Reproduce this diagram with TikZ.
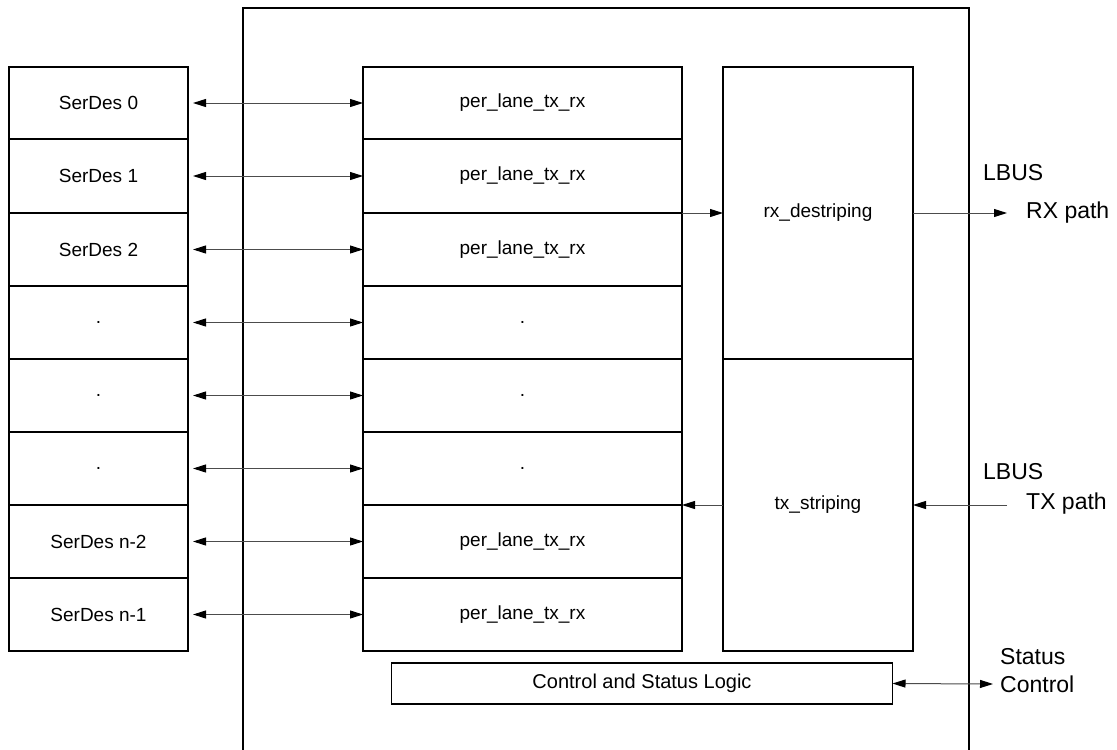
\documentclass[tikz,border=0pt]{standalone}
\usepackage{fontspec}
\setmainfont{Liberation Sans}
\usetikzlibrary{arrows.meta}
\begin{document}
\begin{tikzpicture}[x=1pt,y=-1pt,
  box/.style={draw=black,line width=1.5pt,rectangle,inner sep=0pt,outer sep=0pt,
    font=\fontsize{19}{22}\selectfont},
  conn/.style={draw=black!70,line width=1pt,
    {Triangle[length=13pt,width=8pt,color=black]}-{Triangle[length=13pt,width=8pt,color=black]}},
  oneway/.style={draw=black!70,line width=1pt,-{Triangle[length=13pt,width=8pt,color=black]}},
  lbl/.style={anchor=west,inner sep=0pt,font=\fontsize{23}{26}\selectfont}]
\clip (0,0) rectangle (1117,750);
\fill[white] (0,0) rectangle (1117,750);
% outer box
\node[draw=black,line width=2pt,rectangle,inner sep=0pt,minimum width=726pt,minimum height=760pt] (outer) at (606,388) {};
% SerDes column
\foreach \n/\t/\b/\txt in {0/67/139/SerDes 0,1/139/213/SerDes 1,2/213/286/SerDes 2,3/286/359/.,4/359/432/.,5/432/505/.,6/505/578/SerDes n-2,7/578/651/SerDes n-1}{
  \node[box,minimum width=179pt,minimum height={\b-\t}] (s\n) at (98.5,{(\t+\b)/2}) {\txt};
}
% per lane column
\foreach \n/\t/\b/\txt in {0/67/139/per\_lane\_tx\_rx,1/139/213/per\_lane\_tx\_rx,2/213/286/per\_lane\_tx\_rx,3/286/359/.,4/359/432/.,5/432/505/.,6/505/578/per\_lane\_tx\_rx,7/578/651/per\_lane\_tx\_rx}{
  \node[box,minimum width=319pt,minimum height={\b-\t}] (p\n) at (522.5,{(\t+\b)/2}) {\txt};
}
% striping blocks
\node[box,minimum width=190pt,minimum height=292pt] (rx) at (818,213) {rx\_destriping};
\node[box,minimum width=190pt,minimum height=292pt] (tx) at (818,505) {tx\_striping};
% control
\node[box,minimum width=501pt,minimum height=41pt,font=\fontsize{20}{22}\selectfont] (ctl) at (642,683.5) {Control and Status Logic};
% lane connectors
\foreach \n in {0,...,7}{
  \draw[conn,shorten <=5pt] (s\n.east) -- (p\n.west);
}
% labels
\node[lbl] (lb1) at (983,173) {LBUS};
\node[lbl] (rxp) at (1026,213) {RX path};
\node[lbl] (lb2) at (983,472) {LBUS};
\node[lbl] (txp) at (1026,504) {TX path};
\node[lbl] (st) at (1000,657) {Status};
\node[lbl] (co) at (1000,684) {Control};
\coordinate (rxend) at (1007,213);
\coordinate (txstart) at (1007,505);
\coordinate (ctlend) at (993,684);
% paths
\draw[oneway] (p2.north east) -- (rx.west);
\draw[oneway] (rx.east) -- (rxend);
\draw[oneway] (txstart) -- (tx.east);
\draw[oneway] (tx.west) -- (p6.north east);
\draw[conn] (ctl.east) -- (ctlend);
\end{tikzpicture}
\end{document}
